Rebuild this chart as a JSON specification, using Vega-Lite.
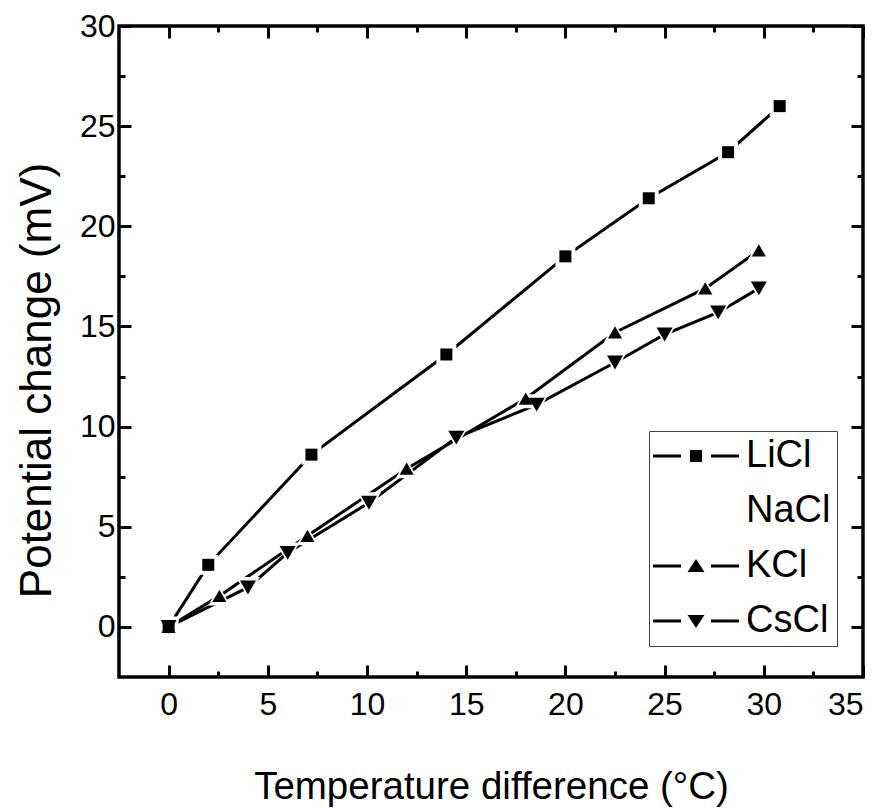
{
  "$schema": "https://vega.github.io/schema/vega-lite/v6.json",
  "width": 744,
  "height": 651,
  "autosize": {"type": "none"},
  "padding": {"left": 119, "top": 26, "right": 26, "bottom": 134},
  "background": "white",
  "config": {
    "view": {"stroke": "black", "strokeWidth": 3.5},
    "font": "Liberation Sans",
    "axis": {
      "domain": false,
      "grid": false,
      "ticks": true,
      "tickColor": "black",
      "tickOpacity": 1,
      "tickWidth": 3,
      "labelColor": "black",
      "labelFont": "Liberation Sans",
      "labelFontSize": 32,
      "titleFont": "Liberation Sans",
      "titleColor": "black",
      "titleFontWeight": "normal"
    }
  },
  "data": {
    "values": [
      {"salt": "LiCl", "t": 0, "v": 0},
      {"salt": "LiCl", "t": 2.0, "v": 3.1},
      {"salt": "LiCl", "t": 7.2, "v": 8.6},
      {"salt": "LiCl", "t": 14.0, "v": 13.6},
      {"salt": "LiCl", "t": 20.0, "v": 18.5},
      {"salt": "LiCl", "t": 24.2, "v": 21.4},
      {"salt": "LiCl", "t": 28.2, "v": 23.7},
      {"salt": "LiCl", "t": 30.8, "v": 26.0},
      {"salt": "KCl", "t": 0, "v": 0},
      {"salt": "KCl", "t": 2.56, "v": 1.55},
      {"salt": "KCl", "t": 7.0, "v": 4.55},
      {"salt": "KCl", "t": 12.0, "v": 7.9},
      {"salt": "KCl", "t": 18.0, "v": 11.4},
      {"salt": "KCl", "t": 22.5, "v": 14.7},
      {"salt": "KCl", "t": 27.05, "v": 16.9},
      {"salt": "KCl", "t": 29.75, "v": 18.8},
      {"salt": "CsCl", "t": 0, "v": 0},
      {"salt": "CsCl", "t": 4.0, "v": 1.97},
      {"salt": "CsCl", "t": 6.0, "v": 3.7},
      {"salt": "CsCl", "t": 10.1, "v": 6.2},
      {"salt": "CsCl", "t": 14.5, "v": 9.45},
      {"salt": "CsCl", "t": 18.55, "v": 11.1},
      {"salt": "CsCl", "t": 22.5, "v": 13.2},
      {"salt": "CsCl", "t": 25.0, "v": 14.6},
      {"salt": "CsCl", "t": 27.7, "v": 15.7},
      {"salt": "CsCl", "t": 29.75, "v": 16.9}
    ]
  },
  "layer": [
    {
      "mark": {"type": "line", "color": "black", "strokeWidth": 3},
      "encoding": {
        "x": {
          "field": "t", "type": "quantitative",
          "scale": {"domain": [-2.5, 35], "nice": false, "zero": false},
          "axis": {
            "orient": "bottom", "values": [0, 5, 10, 15, 20, 25, 30, 35],
            "offset": -12, "tickSize": 12, "labelPadding": 12,
            "title": "Temperature difference (°C)", "titleFontSize": 38.5,
            "titleY": 133, "titleBaseline": "alphabetic"
          }
        },
        "y": {
          "field": "v", "type": "quantitative",
          "scale": {"domain": [-2.5, 30], "nice": false, "zero": false},
          "axis": {
            "orient": "left", "values": [0, 5, 10, 15, 20, 25, 30],
            "offset": -12, "tickSize": 12, "labelPadding": 4,
            "title": "Potential change (mV)", "titleFontSize": 44,
            "titleX": -81, "titleY": 354, "titleBaseline": "alphabetic", "titleAngle": -90
          }
        },
        "detail": {"field": "salt"}
      }
    },
    {
      "mark": {"type": "point", "filled": true, "color": "white", "opacity": 1},
      "encoding": {
        "x": {
          "field": "t", "type": "quantitative",
          "axis": {"orient": "bottom", "values": [2.5, 7.5, 12.5, 17.5, 22.5, 27.5, 32.5], "offset": -6, "tickSize": 6, "labels": false, "title": null}
        },
        "y": {
          "field": "v", "type": "quantitative",
          "axis": {"orient": "left", "values": [2.5, 7.5, 12.5, 17.5, 22.5, 27.5], "offset": -6, "tickSize": 6, "labels": false, "title": null}
        },
        "shape": {"field": "salt", "scale": {"domain": ["LiCl", "KCl", "CsCl"], "range": ["square", "triangle-up", "triangle-down"]}, "legend": null},
        "size": {"field": "salt", "scale": {"domain": ["LiCl", "KCl", "CsCl"], "range": [400, 576, 576]}, "legend": null}
      }
    },
    {
      "mark": {"type": "point", "filled": true, "color": "black", "opacity": 1},
      "encoding": {
        "x": {
          "field": "t", "type": "quantitative",
          "axis": {"orient": "top", "values": [0, 5, 10, 15, 20, 25, 30, 35], "offset": -12, "tickSize": 12, "labels": false, "title": null}
        },
        "y": {
          "field": "v", "type": "quantitative",
          "axis": {"orient": "right", "values": [0, 5, 10, 15, 20, 25, 30], "offset": -12, "tickSize": 12, "labels": false, "title": null}
        },
        "shape": {"field": "salt", "scale": {"domain": ["LiCl", "KCl", "CsCl"], "range": ["square", "triangle-up", "triangle-down"]}, "legend": null},
        "size": {"field": "salt", "scale": {"domain": ["LiCl", "KCl", "CsCl"], "range": [144, 256, 256]}, "legend": null}
      }
    },
    {
      "mark": {"type": "point", "filled": true, "color": "black", "opacity": 0},
      "encoding": {
        "x": {
          "field": "t", "type": "quantitative",
          "axis": {"orient": "top", "values": [2.5, 7.5, 12.5, 17.5, 22.5, 27.5, 32.5], "offset": -6, "tickSize": 6, "labels": false, "title": null}
        },
        "y": {
          "field": "v", "type": "quantitative",
          "axis": {"orient": "right", "values": [2.5, 7.5, 12.5, 17.5, 22.5, 27.5], "offset": -6, "tickSize": 6, "labels": false, "title": null}
        },
        "shape": {
          "field": "salt",
          "scale": {
            "domain": ["LiCl", "NaCl", "KCl", "CsCl"],
            "range": [
              "M-4.3,-0.15H-1.5V0.15H-4.3ZM1.5,-0.15H4.3V0.15H1.5ZM-0.6,-0.6H0.6V0.6H-0.6Z",
              "M0,0",
              "M-4.3,-0.15H-1.5V0.15H-4.3ZM1.5,-0.15H4.3V0.15H1.5ZM0,-0.7L0.85,0.6H-0.85Z",
              "M-4.3,-0.15H-1.5V0.15H-4.3ZM1.5,-0.15H4.3V0.15H1.5ZM0,0.7L0.85,-0.6H-0.85Z"
            ]
          },
          "legend": {
            "orient": "none", "legendX": 530, "legendY": 405,
            "title": null,
            "symbolSize": 400,
            "symbolOffset": 22,
            "symbolFillColor": "black",
            "symbolOpacity": 1,
            "symbolStrokeWidth": 0,
            "labelFont": "Liberation Sans", "labelFontSize": 38, "labelColor": "black",
            "labelOffset": 31, "rowPadding": 17,
            "padding": 6,
            "strokeColor": "#444", "fillColor": "white"
          }
        }
      }
    }
  ],
  "resolve": {
    "axis": {"x": "independent", "y": "independent"},
    "scale": {"shape": "independent", "size": "independent"},
    "legend": {"shape": "independent", "size": "independent"}
  }
}
